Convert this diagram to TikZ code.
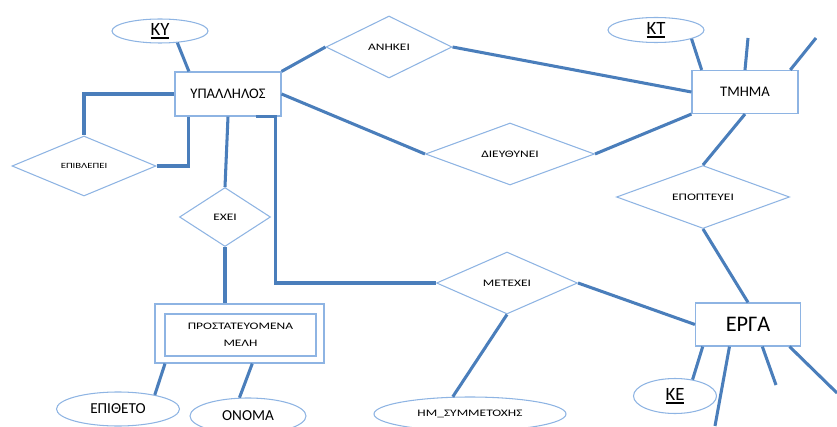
\documentclass[tikz,border=0pt]{standalone}
\usepackage{fontspec}
\setmainfont{Carlito}
\newfontfamily\relfont[FakeStretch=1.35]{Carlito}
\usetikzlibrary{shapes.geometric}
\definecolor{linkblue}{HTML}{4A7EBB}
\definecolor{edgeblue}{HTML}{8EB4E3}
% key attributes get a heavy underline
\newcommand{\pkey}[1]{\setbox0\hbox{#1}\rlap{\rule[-2.6pt]{\wd0}{1.3pt}}\box0}

\begin{document}
\begin{tikzpicture}[
    entity/.style={rectangle, draw=edgeblue, line width=1pt, fill=white, inner sep=0pt, minimum width=3.18cm, minimum height=1.32cm, font=\fontsize{12.5}{14}\selectfont},
    weak/.style={rectangle, draw=edgeblue, line width=1pt, fill=white, inner sep=0pt, align=center},
    rel/.style={diamond, aspect=2.5, inner sep=0pt, draw=edgeblue, line width=0.9pt, fill=white, font=\relfont\fontsize{8.5}{10}\selectfont},
    attr/.style={ellipse, inner sep=0pt, draw=edgeblue, line width=0.9pt, fill=white, font=\fontsize{13}{15}\selectfont},
    keyattr/.style={attr, font=\fontsize{16}{18}\selectfont},
    link/.style={draw=linkblue, line width=2.6pt}
  ]
  \useasboundingbox (0,0) rectangle (25.11,12.78);

  % entities
  \node[entity] (ypal) at (6.84,9.96) {ΥΠΑΛΛΗΛΟΣ};
  \node[entity, minimum height=1.29cm] (tmima) at (22.35,10.02) {ΤΜΗΜΑ};
  \node[entity, minimum width=3.15cm, minimum height=1.29cm, font=\fontsize{19}{21}\selectfont] (erga) at (22.44,3.045) {ΕΡΓΑ};
  \node[weak, minimum width=5.07cm, minimum height=1.77cm] (prost) at (7.185,2.775) {};
  \node[weak, minimum width=4.53cm, minimum height=1.26cm, font=\relfont\fontsize{8.5}{14.5}\selectfont] (prostin) at (7.215,2.73) {ΠΡΟΣΤΑΤΕΥΟΜΕΝΑ\\ΜΕΛΗ};

  % relationships
  \node[rel, minimum width=3.78cm, minimum height=1.86cm] (anikei) at (11.67,11.37) {ΑΝΗΚΕΙ};
  \node[rel, minimum width=5.07cm, minimum height=1.86cm] (dieuth) at (15.30,8.16) {ΔΙΕΥΘΥΝΕΙ};
  \node[rel, minimum width=4.32cm, minimum height=1.80cm, font=\relfont\fontsize{6.8}{8}\selectfont] (epib) at (2.52,7.80) {ΕΠΙΒΛΕΠΕΙ};
  \node[rel, minimum width=2.73cm, minimum height=1.77cm] (exei) at (6.75,6.27) {ΕΧΕΙ};
  \node[rel, minimum width=4.23cm, minimum height=1.86cm] (metexei) at (15.21,4.29) {ΜΕΤΕΧΕΙ};
  \node[rel, minimum width=5.19cm, minimum height=1.89cm] (epopt) at (21.09,6.87) {ΕΠΟΠΤΕΥΕΙ};

  % attributes
  \node[keyattr, minimum width=2.88cm, minimum height=0.72cm] (ky) at (4.80,11.85) {\pkey{ΚΥ}};
  \node[keyattr, minimum width=2.88cm, minimum height=0.75cm] (kt) at (19.68,11.88) {\pkey{ΚΤ}};
  \node[keyattr, minimum width=2.49cm, minimum height=1.05cm] (ke) at (20.25,0.90) {\pkey{ΚΕ}};
  \node[attr, minimum width=3.69cm, minimum height=1.02cm] (epitheto) at (3.54,0.51) {ΕΠΙΘΕΤΟ};
  \node[attr, minimum width=3.48cm, minimum height=1.08cm] (onoma) at (7.44,0.30) {ΟΝΟΜΑ};
  \node[attr, minimum width=5.76cm, minimum height=1.02cm, font=\relfont\fontsize{8.5}{10}\selectfont] (hm) at (14.10,0.36) {ΗΜ\_ΣΥΜΜΕΤΟΧΗΣ};

  % loose ends of attribute lines
  \coordinate (tmA) at (22.44,11.64);
  \coordinate (tmB) at (24.48,11.64);
  \coordinate (erA) at (21.45,0);
  \coordinate (erB) at (23.28,1.23);
  \coordinate (erC) at (25.11,0.99);

  % connections
  \draw[link] (ky.-34) -- (ypal.150);
  \draw[link] (ypal.west) -| (epib.north);
  \draw[link] (epib.east) -| (ypal.-150);
  \draw[link] (ypal.south) -- (exei.north);
  \draw[link] (exei.south) -- (exei.south |- prost.north);
  \draw[link] (prost.-158) -- (epitheto.21);
  \draw[link] (prost.-67) -- (onoma.115);
  \draw[link] (ypal.-39) -- ++(0.6,0) |- (metexei.west);
  \draw[link] (metexei.east) -- (erga.west);
  \draw[link] (metexei.south) -- (hm.135);
  \draw[link] (ypal.north east) -- (anikei.west);
  \draw[link] (anikei.east) -- (tmima.west);
  \draw[link] (ypal.east) -- (dieuth.west);
  \draw[link] (dieuth.east) -- (tmima.south west);
  \draw[link] (tmima.south) -- (epopt.north);
  \draw[link] (epopt.south) -- (erga.north);
  \draw[link] (kt.-14) -- (tmima.153);
  \draw[link] (tmima.north) -- (tmA);
  \draw[link] (tmima.26) -- (tmB);
  \draw[link] (erga.-154) -- (ke.43);
  \draw[link] (erga.-130) -- (erA);
  \draw[link] (erga.-57) -- (erB);
  \draw[link] (erga.-28) -- (erC);
\end{tikzpicture}
\end{document}
